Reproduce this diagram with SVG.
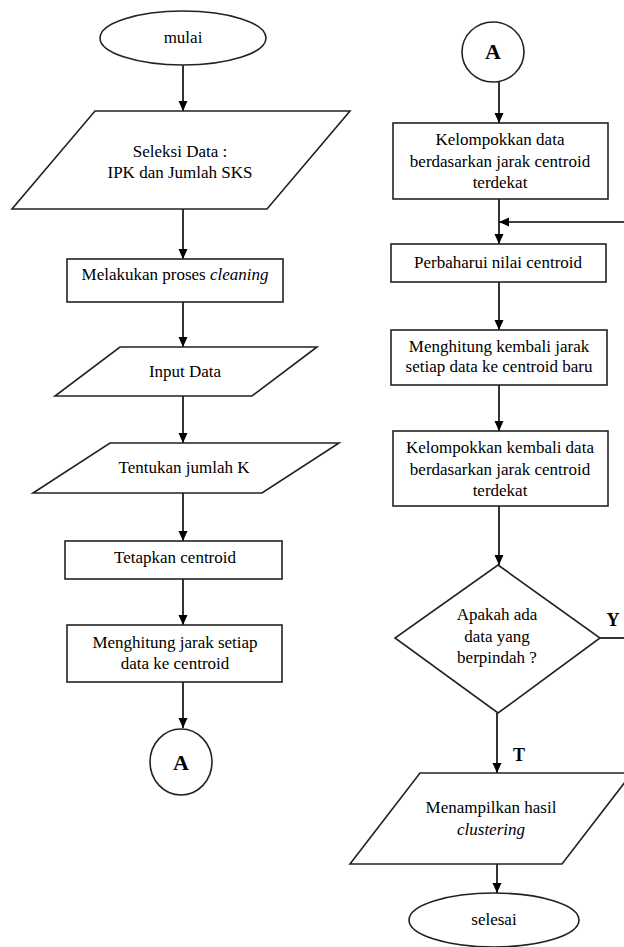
<svg xmlns="http://www.w3.org/2000/svg" width="624" height="947" viewBox="0 0 624 947">
<defs>
<marker id="ah" viewBox="0 0 10 10" refX="10" refY="5" markerWidth="10" markerHeight="10" markerUnits="userSpaceOnUse" orient="auto">
<path d="M0,0.5 L10,5 L0,9.5 Z" fill="#000"/>
</marker>
<style>
.s{fill:#fff;stroke:#222;stroke-width:1.6}
.t{font-family:'Liberation Serif','Times New Roman',Times,'DejaVu Serif',serif;font-size:17px;fill:#000;text-anchor:middle}
.b{font-family:'Liberation Serif','Times New Roman',Times,'DejaVu Serif',serif;font-weight:bold;fill:#000;text-anchor:middle}
.c{fill:none;stroke:#000;stroke-width:1.6}
</style>
</defs>
<rect width="624" height="947" fill="#fff"/>
<g id="connectors">
<line class="c" x1="183" y1="65" x2="183" y2="111" marker-end="url(#ah)"/>
<line class="c" x1="183" y1="209" x2="183" y2="259" marker-end="url(#ah)"/>
<line class="c" x1="183" y1="302" x2="183" y2="347" marker-end="url(#ah)"/>
<line class="c" x1="183" y1="396" x2="183" y2="443" marker-end="url(#ah)"/>
<line class="c" x1="183" y1="493" x2="183" y2="541" marker-end="url(#ah)"/>
<line class="c" x1="183" y1="579" x2="183" y2="625" marker-end="url(#ah)"/>
<line class="c" x1="183" y1="682" x2="183" y2="728" marker-end="url(#ah)"/>
<line class="c" x1="499" y1="82" x2="499" y2="123" marker-end="url(#ah)"/>
<line class="c" x1="499" y1="199" x2="499" y2="244" marker-end="url(#ah)"/>
<line class="c" x1="624" y1="222" x2="499" y2="222" marker-end="url(#ah)"/>
<line class="c" x1="499" y1="282" x2="499" y2="330" marker-end="url(#ah)"/>
<line class="c" x1="499" y1="385" x2="499" y2="431" marker-end="url(#ah)"/>
<line class="c" x1="499" y1="506" x2="499" y2="565" marker-end="url(#ah)"/>
<line class="c" x1="600" y1="638" x2="624" y2="638"/>
<line class="c" x1="497" y1="713" x2="497" y2="773" marker-end="url(#ah)"/>
<line class="c" x1="497" y1="864" x2="497" y2="893" marker-end="url(#ah)"/>
<text class="b" x="613" y="626" font-size="18">Y</text>
<text class="b" x="519" y="761" font-size="18">T</text>
</g>
<g id="mulai">
<ellipse class="s" cx="183" cy="38" rx="83" ry="27"/>
<text class="t" x="183" y="43">mulai</text>
</g>
<g id="seleksi">
<polygon class="s" points="95,111 350,111 267,209 12,209"/>
<text class="t" x="180" y="157">Seleksi Data :</text>
<text class="t" x="180" y="178">IPK dan Jumlah SKS</text>
</g>
<g id="cleaning">
<rect class="s" x="67" y="259" width="216" height="43"/>
<text class="t" x="175" y="280">Melakukan proses <tspan font-style="italic">cleaning</tspan></text>
</g>
<g id="input">
<polygon class="s" points="120,347 317,347 252,396 55,396"/>
<text class="t" x="185" y="377">Input Data</text>
</g>
<g id="tentukan">
<polygon class="s" points="110,443 339,443 262,493 33,493"/>
<text class="t" x="184" y="473">Tentukan jumlah K</text>
</g>
<g id="tetapkan">
<rect class="s" x="65" y="541" width="217" height="38"/>
<text class="t" x="175" y="563">Tetapkan centroid</text>
</g>
<g id="hitung">
<rect class="s" x="67" y="625" width="215" height="57"/>
<text class="t" x="175" y="648">Menghitung jarak setiap</text>
<text class="t" x="175" y="669">data ke centroid</text>
</g>
<g id="connA1">
<ellipse class="s" cx="181" cy="762" rx="31" ry="33"/>
<text class="b" x="181" y="770" font-size="22">A</text>
</g>
<g id="connA2">
<ellipse class="s" cx="493" cy="52" rx="31" ry="30"/>
<text class="b" x="493" y="59" font-size="22">A</text>
</g>
<g id="kelompok">
<rect class="s" x="393" y="123" width="215" height="76"/>
<text class="t" x="500" y="145">Kelompokkan data</text>
<text class="t" x="500" y="167">berdasarkan jarak centroid</text>
<text class="t" x="500" y="188">terdekat</text>
</g>
<g id="perbaharui">
<rect class="s" x="391" y="244" width="215" height="38"/>
<text class="t" x="498" y="268">Perbaharui nilai centroid</text>
</g>
<g id="hitungkembali">
<rect class="s" x="391" y="330" width="216" height="55"/>
<text class="t" x="499" y="352">Menghitung kembali jarak</text>
<text class="t" x="499" y="372">setiap data ke centroid baru</text>
</g>
<g id="kelompokkembali">
<rect class="s" x="393" y="431" width="215" height="75"/>
<text class="t" x="500" y="453">Kelompokkan kembali data</text>
<text class="t" x="500" y="475">berdasarkan jarak centroid</text>
<text class="t" x="500" y="496">terdekat</text>
</g>
<g id="keputusan">
<polygon class="s" points="498,565 600,638 498,713 395,638"/>
<text class="t" x="497" y="620">Apakah ada</text>
<text class="t" x="497" y="642">data yang</text>
<text class="t" x="497" y="663">berpindah ?</text>
</g>
<g id="hasil">
<polygon class="s" points="420,773 632,773 562,864 350,864"/>
<text class="t" x="491" y="813">Menampilkan hasil</text>
<text class="t" x="491" y="835" font-style="italic">clustering</text>
</g>
<g id="selesai">
<ellipse class="s" cx="494" cy="920" rx="85" ry="27"/>
<text class="t" x="494" y="925">selesai</text>
</g>
</svg>
